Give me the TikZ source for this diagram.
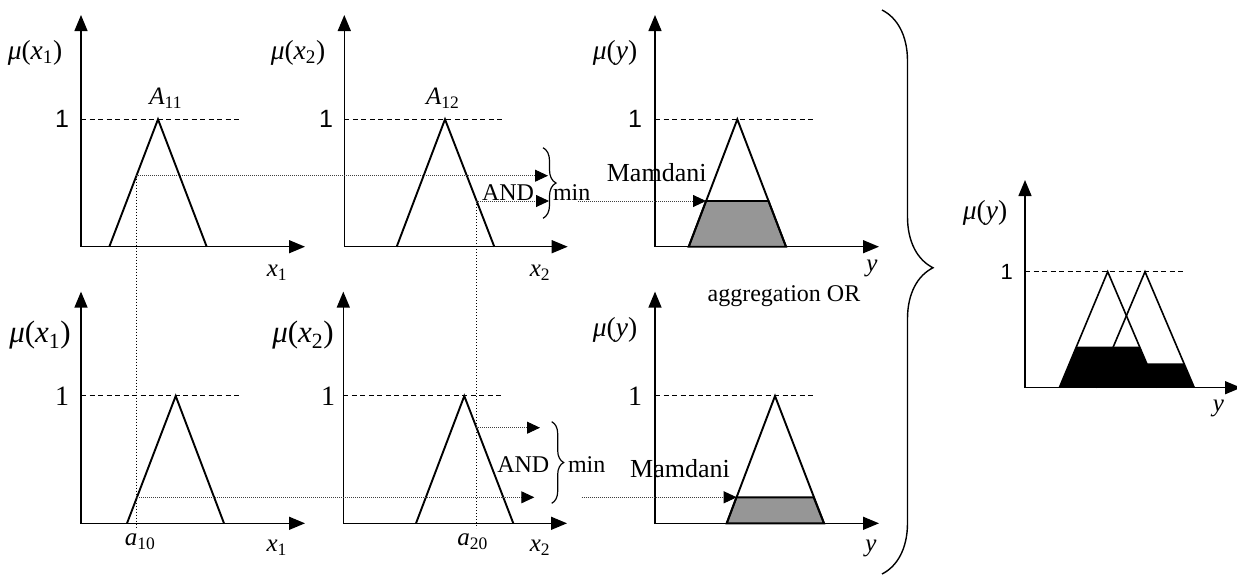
\documentclass[tikz,border=0pt]{standalone}
\usepackage{fontspec}
\setmainfont{Liberation Serif}
\newfontfamily\sanslab{Liberation Sans}
\usetikzlibrary{arrows.meta,positioning,calc,decorations.pathreplacing}
\definecolor{cutgray}{RGB}{150,150,150}

\tikzset{
  axis/.style={line width=1.4pt, {Triangle[length=16pt,width=13pt]}-{Triangle[length=16pt,width=13pt]}},
  unitline/.style={line width=1.1pt, dash pattern=on 5pt off 3.5pt},
  memb/.style={line width=1.9pt, line join=miter},
  cut/.style={line width=0.9pt, dash pattern=on 0.9pt off 1.1pt, black!75},
  feed/.style={cut, -{Triangle[length=13pt,width=12pt,color=black]}},
  drop/.style={line width=1.4pt, dash pattern=on 1.4pt off 1.6pt},
  curly/.style={decorate, line width=1.2pt},
  txt/.style={inner sep=0pt, font=\fontsize{24}{24}\selectfont},
  word/.style={inner sep=0pt, font=\fontsize{26}{26}\selectfont},
  axlab/.style={inner sep=0pt, font=\fontsize{25}{25}\selectfont},
  mulab/.style={inner sep=0pt, font=\fontsize{27.5}{28}\selectfont},
  big/.style={inner sep=0pt, font=\fontsize{31}{31}\selectfont},
  one/.style={inner sep=0pt, font=\sanslab\fontsize{25}{25}\selectfont}
}

\begin{document}
\begin{tikzpicture}[x=1pt, y=-1pt]
    \useasboundingbox (0,0) rectangle (1237,574);

    % Axes and unit levels of the six rule panels
    \foreach \ox/\oy/\xt in {81/246.7/305, 344.3/246.7/567.7, 655/246.7/879,
                             81/523.3/305, 343.3/523.3/567, 655/523.3/879}
    {
        \draw[axis] (\ox,\oy-231.7) -- (\ox,\oy) -- (\xt,\oy);
        \draw[unitline] (\ox,\oy-127.4) -- (\ox+159,\oy-127.4);
    }

    % Clipped consequents
    \filldraw[memb, fill=cutgray] (688.7,246.7) -- (706,201) -- (768.5,201) -- (786,246.7) -- cycle;
    \filldraw[memb, fill=cutgray] (726.7,523.3) -- (736.4,497.3) -- (813.6,497.3) -- (824,523.3) -- cycle;

    % Membership functions
    \draw[memb] (109.3,246.7) -- (158,119.3) -- (206.7,246.7);
    \draw[memb] (396.7,246.7) -- (445,119.3) -- (494.3,246.7);
    \draw[memb] (688.7,246.7) -- (737.3,119.3) -- (786,246.7);
    \draw[memb] (127,523.3) -- (175.7,396) -- (224,523.3);
    \draw[memb] (416,523.3) -- (464.3,396) -- (513.3,523.3);
    \draw[memb] (726.7,523.3) -- (775,396) -- (824,523.3);

    % Crisp inputs and firing levels
    \coordinate (a1top) at (136.4,175.7);
    \coordinate (a1bot) at (137,497.3);
    \coordinate (a1end) at (136.4,528);
    \coordinate (a2top) at (476.4,201);
    \coordinate (a2bot) at (476.4,427.7);
    \coordinate (a2end) at (476.4,528);
    \draw[drop] (a1top) -- (a1end);
    \draw[drop] (a2top) -- (a2end);

    \coordinate (and1a) at (548,175.7);
    \coordinate (and1b) at (549,201);
    \coordinate (min1) at (578,201);
    \coordinate (imp1) at (706,201);
    \draw[feed] (a1top) -- (and1a);
    \draw[feed] (a2top) -- (and1b);
    \draw[feed] (min1) -- (imp1);

    \coordinate (and2a) at (540,427.7);
    \coordinate (and2b) at (534.3,497.3);
    \coordinate (min2) at (581.7,497.3);
    \coordinate (imp2) at (736.7,497.3);
    \draw[feed] (a2bot) -- (and2a);
    \draw[feed] (a1bot) -- (and2b);
    \draw[feed] (min2) -- (imp2);

    % Braces
    \draw[curly, decoration={brace, amplitude=13pt}] (543,147.7) -- (543,218.3);
    \draw[curly, decoration={brace, amplitude=12pt}] (551.7,421.7) -- (551.7,503.3);
    \draw[curly, line width=1.4pt, decoration={brace, amplitude=51pt, aspect=0.457}] (882,10) -- (882,574);

    % Aggregated output
    \draw[axis] (1025,180) -- (1025,387.7) -- (1241,387.7);
    \draw[unitline] (1025,271.7) -- (1185,271.7);
    \draw[memb, line width=1.6pt] (1059.3,387.7) -- (1107.7,271.7) -- (1157,387.7);
    \draw[memb, line width=1.6pt] (1096,387.7) -- (1145,271.7) -- (1194.3,387.7);
    \fill (1059.3,387.7) -- (1076.4,346.7) -- (1139.6,346.7) -- (1146.7,363.3)
          -- (1183.9,363.3) -- (1194.3,387.7) -- cycle;

    % Labels, upper rule
    \node[mulab] (mux1a) at (35,53) {\textit{μ}(\textit{x}\textsubscript{1})};
    \node[mulab] (mux2a) at (298,53) {\textit{μ}(\textit{x}\textsubscript{2})};
    \node[mulab] (muya) at (615,53) {\textit{μ}(\textit{y})};
    \node[one] (onea) at (62,119.3) {1};
    \node[one] (oneb) at (326,119.3) {1};
    \node[one] (onec) at (635,119.3) {1};
    \node[axlab] (A11) at (165.7,98) {\textit{A}\textsubscript{11}};
    \node[axlab] (A12) at (442.7,98) {\textit{A}\textsubscript{12}};
    \node[axlab] (x1a) at (277,273) {\textit{x}\textsubscript{1}};
    \node[axlab] (x2a) at (540,273) {\textit{x}\textsubscript{2}};
    \node[axlab] (ya) at (872,268) {\textit{y}};
    \node[txt] (anda) at (508,192.7) {AND};
    \node[txt] (mina) at (571.7,192.7) {min};
    \node[word] (mamda) at (656.7,173) {Mamdani};

    % Labels, lower rule
    \node[big] (mux1b) at (40,335) {\textit{μ}(\textit{x}\textsubscript{1})};
    \node[big] (mux2b) at (303,335) {\textit{μ}(\textit{x}\textsubscript{2})};
    \node[mulab] (muyb) at (615,330) {\textit{μ}(\textit{y})};
    \node[big, font=\fontsize{28}{28}\selectfont] (oned) at (62,396) {1};
    \node[big, font=\fontsize{28}{28}\selectfont] (onee) at (328,396) {1};
    \node[big, font=\fontsize{28}{28}\selectfont] (onef) at (635,396) {1};
    \node[axlab] (a10) at (140,541.7) {\textit{a}\textsubscript{10}};
    \node[axlab] (a20) at (472.7,541.7) {\textit{a}\textsubscript{20}};
    \node[axlab] (x1b) at (276.7,548) {\textit{x}\textsubscript{1}};
    \node[axlab] (x2b) at (540,548) {\textit{x}\textsubscript{2}};
    \node[axlab] (yb) at (871,548) {\textit{y}};
    \node[txt] (andb) at (523.3,465) {AND};
    \node[txt] (minb) at (586.7,465) {min};
    \node[word] (mamdb) at (680,468.3) {Mamdani};
    \node[txt] (aggr) at (784,296) {aggregation OR};

    % Labels, aggregated output
    \node[mulab] (muyc) at (985,213.3) {\textit{μ}(\textit{y})};
    \node[one, font=\sanslab\fontsize{22}{22}\selectfont] (oneg) at (1006.7,271.7) {1};
    \node[axlab] (yc) at (1218.3,408.3) {\textit{y}};
\end{tikzpicture}
\end{document}
